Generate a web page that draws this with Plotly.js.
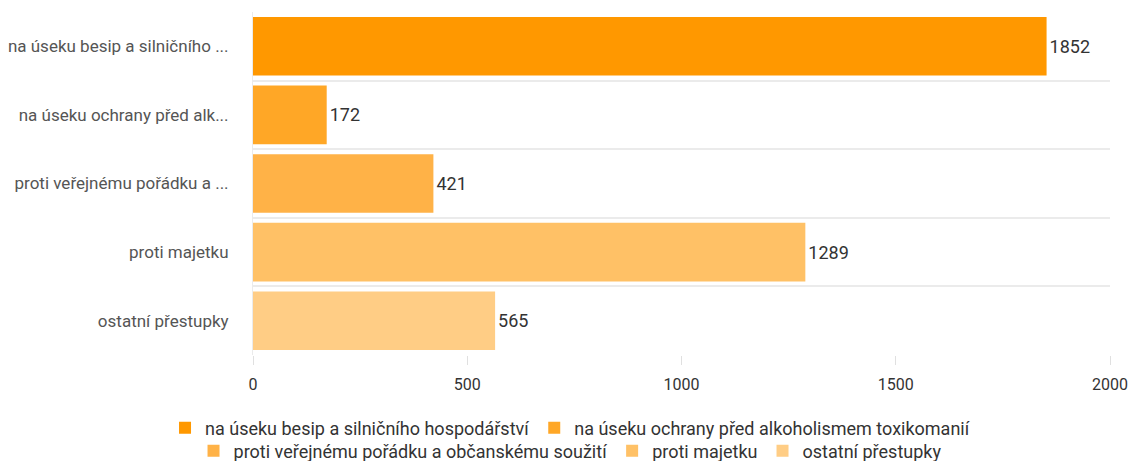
<!DOCTYPE html>
<html><head><meta charset="utf-8">
<script src="https://cdn.plot.ly/plotly-3.0.1.min.js"></script>
<style>body{margin:0;padding:0;background:#fff}#chart{width:1131px;height:461px}</style>
</head><body><div id="chart"></div>
<script>
const categories = [
  "na úseku besip a silničního hospodářství",
  "na úseku ochrany před alkoholismem toxikomanií",
  "proti veřejnému pořádku a občanskému soužití",
  "proti majetku",
  "ostatní přestupky"
];
const tickLabels = [
  "na úseku besip a silničního ...",
  "na úseku ochrany před alk...",
  "proti veřejnému pořádku a ...",
  "proti majetku",
  "ostatní přestupky"
];
const values = [1852, 172, 421, 1289, 565];
const colors = ["#ff9800", "#ffa726", "#ffb247", "#ffc166", "#ffcd85"];
const legendRow = ["legend", "legend", "legend2", "legend2", "legend2"];

const traces = categories.map((c, i) => ({
  type: 'bar', orientation: 'h',
  x: [values[i]], y: [c], name: c,
  legend: legendRow[i],
  marker: {color: colors[i]},
  text: [String(values[i])], textposition: 'outside', cliponaxis: false,
  textfont: {family: 'Roboto, sans-serif', size: 18, color: '#333'},
  hoverinfo: 'x+name'
}));

const legendBase = {
  orientation: 'h', xref: 'container', x: 0.504, xanchor: 'center',
  yref: 'container', yanchor: 'middle',
  font: {size: 18, color: '#333'}, itemwidth: 30,
  traceorder: 'normal', bgcolor: 'rgba(0,0,0,0)'
};

const layout = {
  width: 1131, height: 461,
  margin: {l: 253, r: 21, t: 12, b: 106},
  paper_bgcolor: '#fff', plot_bgcolor: '#fff',
  barmode: 'overlay', bargap: 0.146,
  font: {family: 'Roboto, sans-serif', color: '#333'},
  xaxis: {
    range: [0, 2000], tickvals: [0, 500, 1000, 1500, 2000],
    showgrid: false, zeroline: false,
    ticks: 'outside', ticklen: 9, tickcolor: '#e0e0e0', tickwidth: 1,
    ticklabelstandoff: 6,
    tickfont: {size: 16, color: '#333'},
    showline: false
  },
  yaxis: {
    type: 'category', categoryarray: categories, categoryorder: 'array',
    autorange: 'reversed',
    tickvals: categories, ticktext: tickLabels,
    tickson: 'boundaries', showgrid: true, gridcolor: '#ebebeb', gridwidth: 2,
    ticks: '', ticklabelstandoff: 20,
    tickfont: {size: 17, color: '#555'},
    showline: true, linecolor: '#ebebeb', linewidth: 1
  },
  legend: Object.assign({}, legendBase, {y: 33 / 461}),
  legend2: Object.assign({}, legendBase, {y: 10 / 461}),
  showlegend: true
};
Plotly.newPlot('chart', traces, layout, {displayModeBar: false, staticPlot: true});
</script></body></html>
